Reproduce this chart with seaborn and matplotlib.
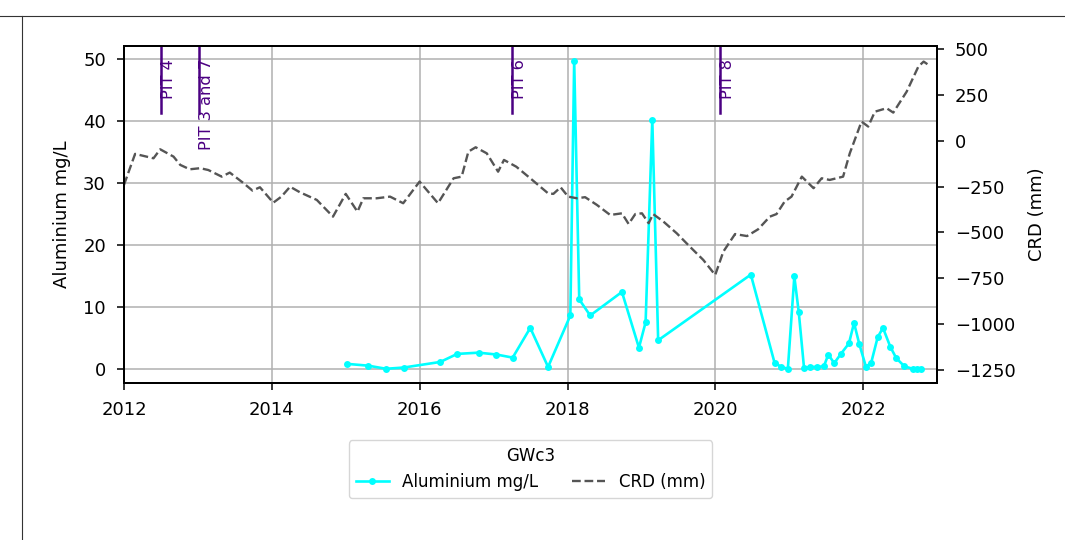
import pandas as pd
import seaborn as sns
import matplotlib.pyplot as plt
from matplotlib.lines import Line2D

# Aluminium sampling (mg/L)
al_dates = ["2015-01-05", "2015-04-22", "2015-07-19", "2015-10-15", "2016-04-12",
            "2016-07-05", "2016-10-19", "2017-01-15", "2017-04-05", "2017-07-01",
            "2017-09-27", "2018-01-15", "2018-02-03", "2018-02-28", "2018-04-23",
            "2018-09-27", "2018-12-20", "2019-01-22", "2019-02-24", "2019-03-25",
            "2020-06-25", "2020-10-20", "2020-11-22", "2020-12-25", "2021-01-26",
            "2021-02-17", "2021-03-15", "2021-04-13", "2021-05-19", "2021-06-21",
            "2021-07-13", "2021-08-11", "2021-09-13", "2021-10-23", "2021-11-17",
            "2021-12-13", "2022-01-15", "2022-02-10", "2022-03-14", "2022-04-09",
            "2022-05-16", "2022-06-14", "2022-07-24", "2022-09-02", "2022-09-24",
            "2022-10-16"]
al_values = [0.8, 0.5, 0.0, 0.2, 1.1, 2.4, 2.6, 2.3, 1.8, 6.6,
             0.3, 8.6, 49.7, 11.2, 8.6, 12.4, 3.4, 7.5, 40.2, 4.6,
             15.2, 1.0, 0.3, 0.0, 14.9, 9.1, 0.1, 0.3, 0.3, 0.4,
             2.3, 0.9, 2.4, 4.1, 7.4, 4.0, 0.3, 1.0, 5.1, 6.6,
             3.5, 1.7, 0.4, 0.0, 0.0, 0.0]

# Cumulative rainfall deviation (mm)
crd_dates = ["2012-01-01", "2012-02-25", "2012-05-26", "2012-06-28", "2012-09-02",
             "2012-10-05", "2012-11-21", "2013-01-12", "2013-02-21", "2013-04-28",
             "2013-06-07", "2013-08-11", "2013-09-27", "2013-11-03", "2014-01-08",
             "2014-02-17", "2014-04-01", "2014-05-19", "2014-08-11", "2014-10-30",
             "2015-01-01", "2015-02-28", "2015-03-29", "2015-06-03", "2015-08-08",
             "2015-10-12", "2016-01-01", "2016-04-01", "2016-06-17", "2016-07-27",
             "2016-08-29", "2016-10-04", "2016-11-28", "2017-01-23", "2017-02-21",
             "2017-04-23", "2017-07-01", "2017-09-27", "2017-10-23", "2017-11-28",
             "2018-01-04", "2018-02-17", "2018-03-29", "2018-05-26", "2018-07-31",
             "2018-09-27", "2018-10-30", "2018-12-02", "2019-01-04", "2019-02-06",
             "2019-02-28", "2019-04-20", "2019-06-25", "2019-08-29", "2019-11-03",
             "2020-01-01", "2020-02-10", "2020-04-08", "2020-06-06", "2020-07-31",
             "2020-09-27", "2020-10-30", "2020-12-09", "2021-01-12", "2021-03-04",
             "2021-05-01", "2021-06-10", "2021-07-20", "2021-09-24", "2021-10-27",
             "2021-12-24", "2022-01-26", "2022-02-28", "2022-04-27", "2022-05-30",
             "2022-08-04", "2022-10-01", "2022-10-27", "2022-11-28"]
crd_values = [-241, -72, -96, -47, -87, -132, -156, -150, -160, -196,
              -174, -229, -272, -254, -338, -305, -251, -281, -323, -414,
              -290, -387, -314, -314, -305, -341, -223, -341, -205, -196,
              -60, -36, -69, -169, -105, -142, -205, -287, -290, -254,
              -305, -314, -308, -350, -405, -396, -454, -400, -396, -450,
              -400, -441, -505, -578, -650, -732, -605, -509, -520, -483,
              -414, -400, -332, -305, -196, -259, -205, -214, -196, -69,
              104, 77, 158, 177, 153, 267, 404, 431, 407]

# pit events
pit_dates = ["2012-07-01", "2013-01-04", "2017-04-01", "2020-01-26"]
pit_labels = ["PIT 4", "PIT 3 and 7", "PIT 6", "PIT 8"]

df_al = pd.DataFrame({"date": pd.to_datetime(al_dates), "Aluminium mg/L": al_values})
df_crd = pd.DataFrame({"date": pd.to_datetime(crd_dates), "CRD (mm)": crd_values})

plt.rcParams["font.size"] = 13
plt.rcParams["axes.linewidth"] = 1.4

fig = plt.figure(figsize=(10.65, 5.4), dpi=100)
ax1 = fig.add_axes([0.1164, 0.2907, 0.7634, 0.6241])
ax2 = ax1.twinx()

sns.lineplot(data=df_al, x="date", y="Aluminium mg/L", ax=ax1, color="cyan",
             marker="o", markersize=5, markeredgewidth=0, linewidth=1.9,
             label="Aluminium mg/L", legend=False)
sns.lineplot(data=df_crd, x="date", y="CRD (mm)", ax=ax2, color="#555555",
             linestyle="--", linewidth=1.7, label="CRD (mm)", legend=False)

for d, lab in zip(pit_dates, pit_labels):
    ax1.axvline(pd.Timestamp(d), ymin=0.8, ymax=1.0, color="indigo", linewidth=1.8)
    ax1.text(pd.Timestamp(d), 50, lab, rotation=90, va="top", ha="left",
             color="indigo", fontsize=11.7)

ax1.set_xlim(pd.Timestamp("2012-01-01"), pd.Timestamp("2023-01-01"))
ax1.set_ylim(-2.3, 52.1)
ax2.set_ylim(-1321, 516)
ax2.set_yticks([500, 250, 0, -250, -500, -750, -1000, -1250])
ax1.set_xlabel("")
ax1.set_ylabel("Aluminium mg/L", labelpad=9)
ax2.set_ylabel("CRD (mm)", labelpad=9)
ax1.grid(True, color="#b0b0b0", linewidth=1.1)
for ax in (ax1, ax2):
    ax.tick_params(length=5, width=1.1, pad=8)

h1, l1 = ax1.get_legend_handles_labels()
h2, l2 = ax2.get_legend_handles_labels()
ax1.legend(h1 + h2, l1 + l2, title="GWc3", ncol=2, loc="upper center",
           bbox_to_anchor=(0.5, -0.145), fontsize=12, title_fontsize=12)

# screenshot frame
fig.add_artist(Line2D([0, 1], [1 - 16 / 540, 1 - 16 / 540], color="#333333", linewidth=0.8))
fig.add_artist(Line2D([22 / 1065, 22 / 1065], [0, 1 - 16 / 540], color="#333333", linewidth=0.8))

fig.savefig("out.png", dpi=100)
